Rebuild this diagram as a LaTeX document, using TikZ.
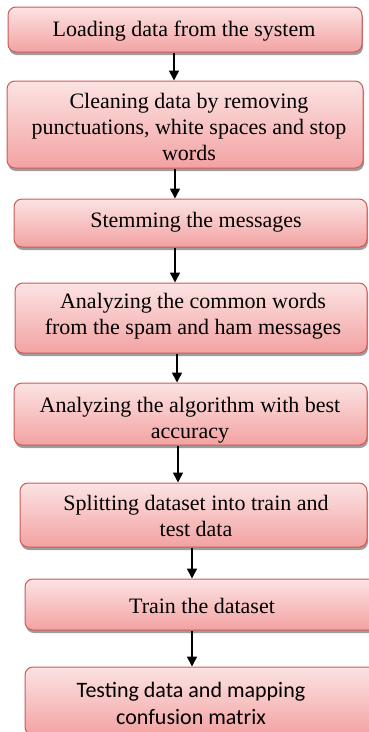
\documentclass[tikz,border=0pt]{standalone}
\usepackage{fontspec}
\setmainfont{Liberation Serif}
\newfontfamily\calibrilike{Carlito}
\usetikzlibrary{arrows.meta,shadows}

\definecolor{boxtop}{HTML}{FCE3E3}
\definecolor{boxbottom}{HTML}{F3A2A2}
\definecolor{boxedge}{HTML}{CC5A57}

\tikzset{
  stepbox/.style={rectangle, rounded corners=8pt, draw=boxedge, line width=1pt,
    top color=boxtop, bottom color=boxbottom,
    drop shadow={shadow xshift=1pt, shadow yshift=-3pt, fill=black!55, opacity=0.7},
    inner sep=0pt},
  steptext/.style={align=center, inner sep=0pt, font=\fontsize{22}{26}\selectfont},
  flow/.style={line width=1.6pt, -{Triangle[length=10pt,width=10pt]}},
}

\begin{document}
\begin{tikzpicture}[x=1pt,y=-1pt]
\useasboundingbox (0,0) rectangle (369,732);
\clip (0,0) rectangle (369,732);

% boxes
\node[stepbox, minimum width=354pt, minimum height=45pt] (b1) at (185,29.5) {};
\node[stepbox, minimum width=356pt, minimum height=87pt] (b2) at (185,124.5) {};
\node[stepbox, minimum width=353pt, minimum height=48pt] (b3) at (190.5,223) {};
\node[stepbox, minimum width=352pt, minimum height=70pt] (b4) at (191,318) {};
\node[stepbox, minimum width=353pt, minimum height=62pt] (b5) at (190.5,414) {};
\node[stepbox, minimum width=347pt, minimum height=64pt] (b6) at (193.5,515) {};
\node[stepbox, minimum width=360pt, minimum height=51pt] (b7) at (205,604.5) {};
\node[stepbox, minimum width=360pt, minimum height=68pt] (b8) at (205,701) {};

% labels
\node[steptext] (t1) at (184,31) {Loading data from the system};
\node[steptext] (t2) at (189,127) {Cleaning data by removing\\punctuations, white spaces and stop\\words};
\node[steptext] (t3) at (196,222) {Stemming the messages};
\node[steptext] (t4) at (193,316) {Analyzing the common words\\from the spam and ham messages};
\node[steptext] (t5) at (190,420) {Analyzing the algorithm with best\\accuracy};
\node[steptext] (t6) at (196,516) {Splitting dataset into train and\\test data};
\node[steptext] (t7) at (202,606) {Train the dataset};
\node[steptext, font=\calibrilike\fontsize{22}{27}\selectfont] (t8) at (191,703) {Testing data and mapping\\confusion matrix};

% arrow columns
\coordinate (c1) at (174,0);
\coordinate (c2) at (175,0);
\coordinate (c3) at (175,0);
\coordinate (c4) at (177,0);
\coordinate (c5) at (178,0);
\coordinate (c6) at (192,0);
\coordinate (c7) at (192,0);

% connectors
\draw[flow] (b1.south -| c1) -- (b2.north -| c1);
\draw[flow] (b2.south -| c2) -- (b3.north -| c2);
\draw[flow] (b3.south -| c3) -- (b4.north -| c3);
\draw[flow] (b4.south -| c4) -- (b5.north -| c4);
\draw[flow] (b5.south -| c5) -- (b6.north -| c5);
\draw[flow] (b6.south -| c6) -- (b7.north -| c6);
\draw[flow] (b7.south -| c7) -- (b8.north -| c7);
\end{tikzpicture}
\end{document}
